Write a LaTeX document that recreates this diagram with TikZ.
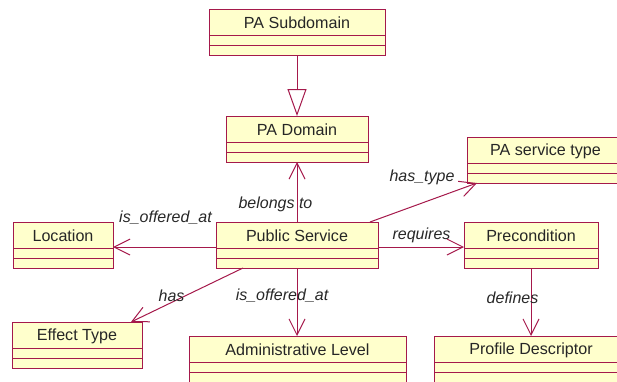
\documentclass[tikz,border=0pt]{standalone}
\usepackage{fontspec}
\setmainfont{Liberation Sans}
\usetikzlibrary{arrows.meta,calc}

\definecolor{umlborder}{RGB}{165,25,75}
\definecolor{umlfill}{RGB}{255,255,204}
\definecolor{labeltext}{RGB}{40,40,40}

% UML class box: name, left, top, right, title (height fixed at 46)
\newcommand\umlclass[5]{%
  \node[classbox, minimum width={(#4-#2)*1pt}] (#1) at (#2,#3) {};
  \draw[umlline] ([yshift=-26pt]#1.north west) -- ([yshift=-26pt]#1.north east);
  \draw[umlline] ([yshift=-36pt]#1.north west) -- ([yshift=-36pt]#1.north east);
  \node[classtitle] (#1-t) at ([yshift=-14pt]#1.north) {#5};
}

\begin{document}
\begin{tikzpicture}[x=1pt, y=-1pt,
  classbox/.style={draw=umlborder, fill=umlfill, line width=1pt, rectangle,
    anchor=north west, minimum height=46pt, inner sep=0pt, outer sep=0pt},
  umlline/.style={draw=umlborder, line width=1pt},
  classtitle/.style={inner sep=0pt, font=\fontsize{16.1}{18}\selectfont, text=black!85},
  assoc/.style={draw=umlborder, line width=1pt, -{Straight Barb[length=16pt,width=16pt]}},
  generalize/.style={draw=umlborder, line width=1pt, -{Triangle[open,length=27pt,width=19pt]}},
  rolelabel/.style={inner sep=0pt, font=\fontsize{16}{18}\selectfont\itshape, text=labeltext}]

\useasboundingbox (0,0) rectangle (617,381);
\clip (0,0) rectangle (617,381);
\fill[white] (0,0) rectangle (617,381);

% classes
\umlclass{sub}{209}{9}{385}{PA Subdomain}
\umlclass{dom}{226}{116}{368}{PA Domain}
\umlclass{pst}{467}{137}{624}{PA service type}
\umlclass{ps}{216}{222}{378}{Public Service}
\umlclass{loc}{13}{222}{113}{Location}
\umlclass{pre}{464}{222}{598}{Precondition}
\umlclass{eff}{12}{322}{142}{Effect Type}
\umlclass{adm}{189}{336}{406}{Administrative Level}
\umlclass{prof}{434}{336}{628}{Profile Descriptor}

% generalization
\draw[generalize] (sub.south) -- (dom.north);

% associations
\draw[assoc] (ps.north) -- (dom.south);
\draw[assoc] ([yshift=-2pt]ps.west) -- ([yshift=-2pt]loc.east);
\draw[assoc] ([xshift=27pt]ps.south west) -- ([xshift=-11pt]eff.north east);
\draw[assoc] (ps.south) -- (ps.south |- adm.north);
\draw[assoc] ([xshift=-8pt]ps.north east) -- ([xshift=10pt]pst.south west);
\draw[assoc] ([yshift=-2pt]ps.east) -- ([yshift=-2pt]pre.west);
\draw[assoc] (pre.south) -- (pre.south |- prof.north);

% association names
\node[rolelabel] (l-belongs) at (275.5,204) {belongs to};
\node[rolelabel] (l-offloc) at (165.5,218) {is\_offered\_at};
\node[rolelabel] (l-has) at (171.5,296) {has};
\node[rolelabel] (l-offadm) at (282,296) {is\_offered\_at};
\node[rolelabel] (l-hastype) at (422,177) {has\_type};
\node[rolelabel] (l-requires) at (421.5,235) {requires};
\node[rolelabel] (l-defines) at (512.5,298) {defines};
\end{tikzpicture}
\end{document}
